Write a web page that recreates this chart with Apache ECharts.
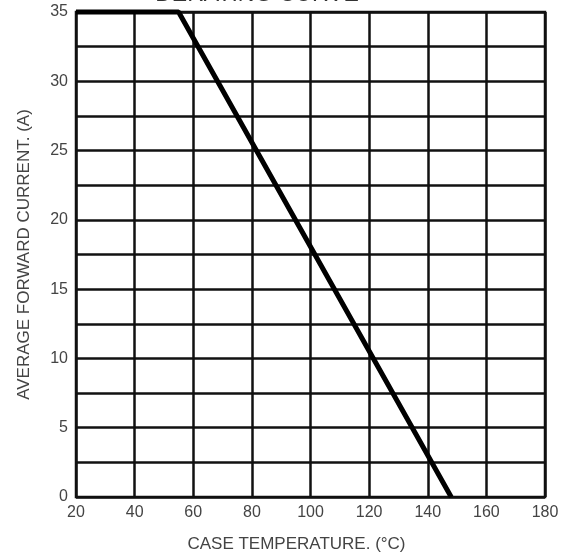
<!DOCTYPE html>
<html>
<head>
<meta charset="utf-8">
<script src="https://cdn.jsdelivr.net/npm/echarts@6/dist/echarts.min.js"></script>
<style>
html,body{margin:0;padding:0;background:#fff;}
#chart{width:565px;height:558px;}
</style>
</head>
<body>
<div id="chart"></div>
<script>
var titleText = 'DERATING CURVE';
var xName = 'CASE TEMPERATURE. (°C)';
var yName = 'AVERAGE FORWARD CURRENT. (A)';
var temps = [20, 55, 148];
var currents = [35, 35, 0];

var chart = echarts.init(document.getElementById('chart'));
var font = 'Liberation Sans, Arial, sans-serif';
chart.setOption({
  animation: false,
  backgroundColor: '#fff',
  title: {
    text: titleText,
    left: 252,
    textAlign: 'center',
    top: -22,
    textStyle: {fontFamily: font, fontSize: 23, fontWeight: 'normal', color: '#333'}
  },
  grid: {
    left: 76, right: 20, top: 12, bottom: 59,
    show: true, borderColor: '#111', borderWidth: 2.5
  },
  xAxis: {
    type: 'value', min: 20, max: 180, interval: 20,
    name: xName, nameLocation: 'middle', nameGap: 39,
    nameTextStyle: {fontFamily: font, fontSize: 17, color: '#444', padding: [0, 28, 0, 0]},
    axisLine: {show: false}, axisTick: {show: false},
    axisLabel: {fontFamily: font, fontSize: 16, color: '#444', margin: 8},
    splitLine: {show: true, lineStyle: {color: '#111', width: 2.5}}
  },
  yAxis: {
    type: 'value', min: 0, max: 35, interval: 2.5,
    name: yName, nameLocation: 'middle', nameGap: 43,
    nameTextStyle: {fontFamily: font, fontSize: 17, color: '#444'},
    axisLine: {show: false}, axisTick: {show: false},
    axisLabel: {fontFamily: font, fontSize: 16, color: '#444', margin: 8,
      padding: [4, 0, 0, 0],
      formatter: function (v) { return v % 5 === 0 ? String(v) : ''; }},
    splitLine: {show: true, lineStyle: {color: '#111', width: 2.5}}
  },
  series: [{
    type: 'line',
    data: temps.map(function (t, i) { return [t, currents[i]]; }),
    showSymbol: false,
    clip: false,
    lineStyle: {color: '#000', width: 5}
  }]
});
</script>
</body>
</html>
